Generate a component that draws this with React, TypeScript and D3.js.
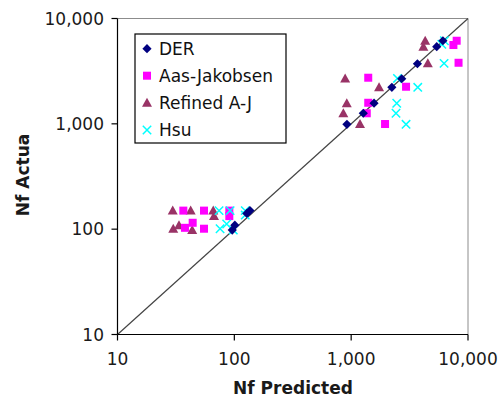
import React from "react";
import * as d3 from "d3";

const W = 499;
const H = 401;
const M = { left: 117.5, right: 31, top: 18.5, bottom: 66.5 };

const tickValues = [10, 100, 1000, 10000];
const tickLabels = ["10", "100", "1,000", "10,000"];

const derPredicted = [96, 101, 128, 136, 920, 1270, 1570, 2230, 2710, 3690, 5400, 6100];
const derActual = [98, 109, 141, 150, 990, 1260, 1570, 2220, 2680, 3720, 5400, 6150];

const ajPredicted = [36.6, 55, 90.6, 90.6, 37.8, 44, 55, 1400, 1400, 1360, 1950, 2950, 7500, 8000, 8300];
const ajActual = [150, 150, 150, 133, 103, 115, 101, 2740, 1585, 1260, 996, 2250, 5600, 6150, 3800];

const rajPredicted = [29.7, 42.3, 66, 67, 30, 33.6, 43.6, 888, 917, 857, 1190, 1733, 4300, 4150, 4530];
const rajActual = [150, 150, 150, 133, 101, 109, 98, 2700, 1567, 1260, 996, 2220, 6150, 5400, 3750];

const hsuPredicted = [74, 92, 124, 124, 75.5, 86, 98, 2490, 2455, 2420, 2950, 3715, 6280, 5970, 6240];
const hsuActual = [150, 150, 150, 136, 101, 112, 98, 2700, 1567, 1260, 989, 2220, 6150, 5690, 3750];

const seriesNames = ["DER", "Aas-Jakobsen", "Refined A-J", "Hsu"];
const seriesColors = ["#000080", "#ff00ff", "#993366", "#00ffff"];
const seriesShapes = ["diamond", "square", "triangle", "cross"];

const FONT = "'DejaVu Sans', Verdana, sans-serif";

function Marker({ shape, color, x, y }: { shape: string; color: string; x: number; y: number }) {
  if (shape === "diamond") {
    const s = 4.6;
    return <path d={`M${x},${y - s}L${x + s},${y}L${x},${y + s}L${x - s},${y}Z`} fill={color} />;
  }
  if (shape === "square") {
    const s = 4;
    return <rect x={x - s} y={y - s} width={2 * s} height={2 * s} fill={color} />;
  }
  if (shape === "triangle") {
    const s = 5;
    return <path d={`M${x},${y - s}L${x + s},${y + s * 0.8}L${x - s},${y + s * 0.8}Z`} fill={color} />;
  }
  const s = 4.2;
  return (
    <path
      d={`M${x - s},${y - s}L${x + s},${y + s}M${x - s},${y + s}L${x + s},${y - s}`}
      stroke={color}
      strokeWidth={1.5}
      fill="none"
    />
  );
}

export default function App() {
  const x = d3.scaleLog().domain([10, 10000]).range([M.left, W - M.right]);
  const y = d3.scaleLog().domain([10, 10000]).range([H - M.bottom, M.top]);

  const series = [
    { p: derPredicted, a: derActual },
    { p: ajPredicted, a: ajActual },
    { p: rajPredicted, a: rajActual },
    { p: hsuPredicted, a: hsuActual },
  ];

  const x0 = x(10);
  const x1 = x(10000);
  const y0 = y(10);
  const y1 = y(10000);

  // draw order: DER on top
  const drawOrder = [2, 1, 3, 0];

  return (
    <svg
      width={W}
      height={H}
      style={{ position: "absolute", left: 0, top: 0, background: "#fff" }}
      fontFamily={FONT}
    >
      {/* plot frame */}
      <line x1={x0} y1={y1} x2={x1} y2={y1} stroke="#8c8c8c" strokeWidth={1} />
      <line x1={x1} y1={y1} x2={x1} y2={y0} stroke="#8c8c8c" strokeWidth={1} />

      {/* 1:1 line */}
      <line x1={x(10)} y1={y(10)} x2={x(10000)} y2={y(10000)} stroke="#444" strokeWidth={1.2} />

      {drawOrder.map((si) => (
        <g key={si}>
          {series[si].p.map((pv, i) => (
            <Marker
              key={i}
              shape={seriesShapes[si]}
              color={seriesColors[si]}
              x={x(pv)}
              y={y(series[si].a[i])}
            />
          ))}
        </g>
      ))}

      {/* axes */}
      <line x1={x0} y1={y0} x2={x1} y2={y0} stroke="#000" strokeWidth={1.2} />
      <line x1={x0} y1={y0} x2={x0} y2={y1} stroke="#000" strokeWidth={1.2} />
      {tickValues.map((t, i) => (
        <g key={"yt" + i}>
          <line x1={x0 - 6} x2={x0} y1={y(t)} y2={y(t)} stroke="#000" strokeWidth={1.2} />
          <text x={104} y={y(t)} dy="0.36em" textAnchor="end" fontSize={17} fill="#1a1a1a">
            {tickLabels[i]}
          </text>
        </g>
      ))}
      {tickValues.map((t, i) => (
        <g key={"xt" + i}>
          <line x1={x(t)} x2={x(t)} y1={y0} y2={y0 + 6} stroke="#000" strokeWidth={1.2} />
          <text x={x(t)} y={365} textAnchor="middle" fontSize={17} fill="#1a1a1a">
            {tickLabels[i]}
          </text>
        </g>
      ))}

      <text x={293} y={394} textAnchor="middle" fontSize={17} fontWeight="bold" fill="#1a1a1a">
        Nf Predicted
      </text>
      <text
        transform={`translate(29,175) rotate(-90)`}
        textAnchor="middle"
        fontSize={17}
        fontWeight="bold"
        fill="#1a1a1a"
      >
        Nf Actua
      </text>

      {/* legend */}
      <rect x={135} y={34} width={151} height={109} fill="#fff" stroke="#000" strokeWidth={1.2} />
      {seriesNames.map((n, i) => {
        const ly = [48.7, 75.7, 102.7, 130][i];
        return (
          <g key={n}>
            <Marker shape={seriesShapes[i]} color={seriesColors[i]} x={147} y={ly} />
            <text x={159} y={ly} dy="0.36em" fontSize={17} fill="#111">
              {n}
            </text>
          </g>
        );
      })}
    </svg>
  );
}
